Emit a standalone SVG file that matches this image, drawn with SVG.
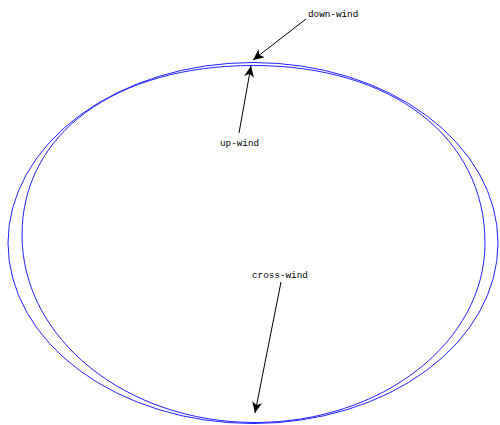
<svg xmlns="http://www.w3.org/2000/svg" width="500" height="425" viewBox="0 0 500 425">
<style>
.curve{fill:none;stroke:#2222ff;stroke-width:1}
.conn{stroke:#000;stroke-width:1;fill:none}
.lbl{font-family:"Liberation Mono","DejaVu Sans Mono",monospace;font-size:9.3px;fill:#000}
</style>
<defs>
<marker id="ah" markerWidth="12" markerHeight="10" refX="11" refY="5" orient="auto" markerUnits="userSpaceOnUse">
<path d="M0,0 L11,5 L0,10 L3,5 Z" fill="#000"/>
</marker>
</defs>
<rect width="500" height="425" fill="#fff"/>
<g id="outer-curve">
<ellipse class="curve" cx="253" cy="243" rx="245" ry="180.5"/>
</g>
<g id="inner-curve">
<path class="curve" d="M253.5,65.5 C392.4,65.5 485,137.6 485,243 C485,342.1 382,422.5 255,422.5 C126.3,422.5 22,338.6 22,235 C22,134.2 114.6,65.5 253.5,65.5 Z"/>
</g>
<g id="connectors">
<line class="conn" x1="306" y1="19" x2="253" y2="60" marker-end="url(#ah)"/>
<line class="conn" x1="239" y1="133" x2="251" y2="66" marker-end="url(#ah)"/>
<line class="conn" x1="281" y1="282" x2="255" y2="413" marker-end="url(#ah)"/>
</g>
<g id="label-down-wind"><text class="lbl" x="308" y="17">down-wind</text></g>
<g id="label-up-wind"><text class="lbl" x="220" y="146">up-wind</text></g>
<g id="label-cross-wind"><text class="lbl" x="252" y="278">cross-wind</text></g>
</svg>
